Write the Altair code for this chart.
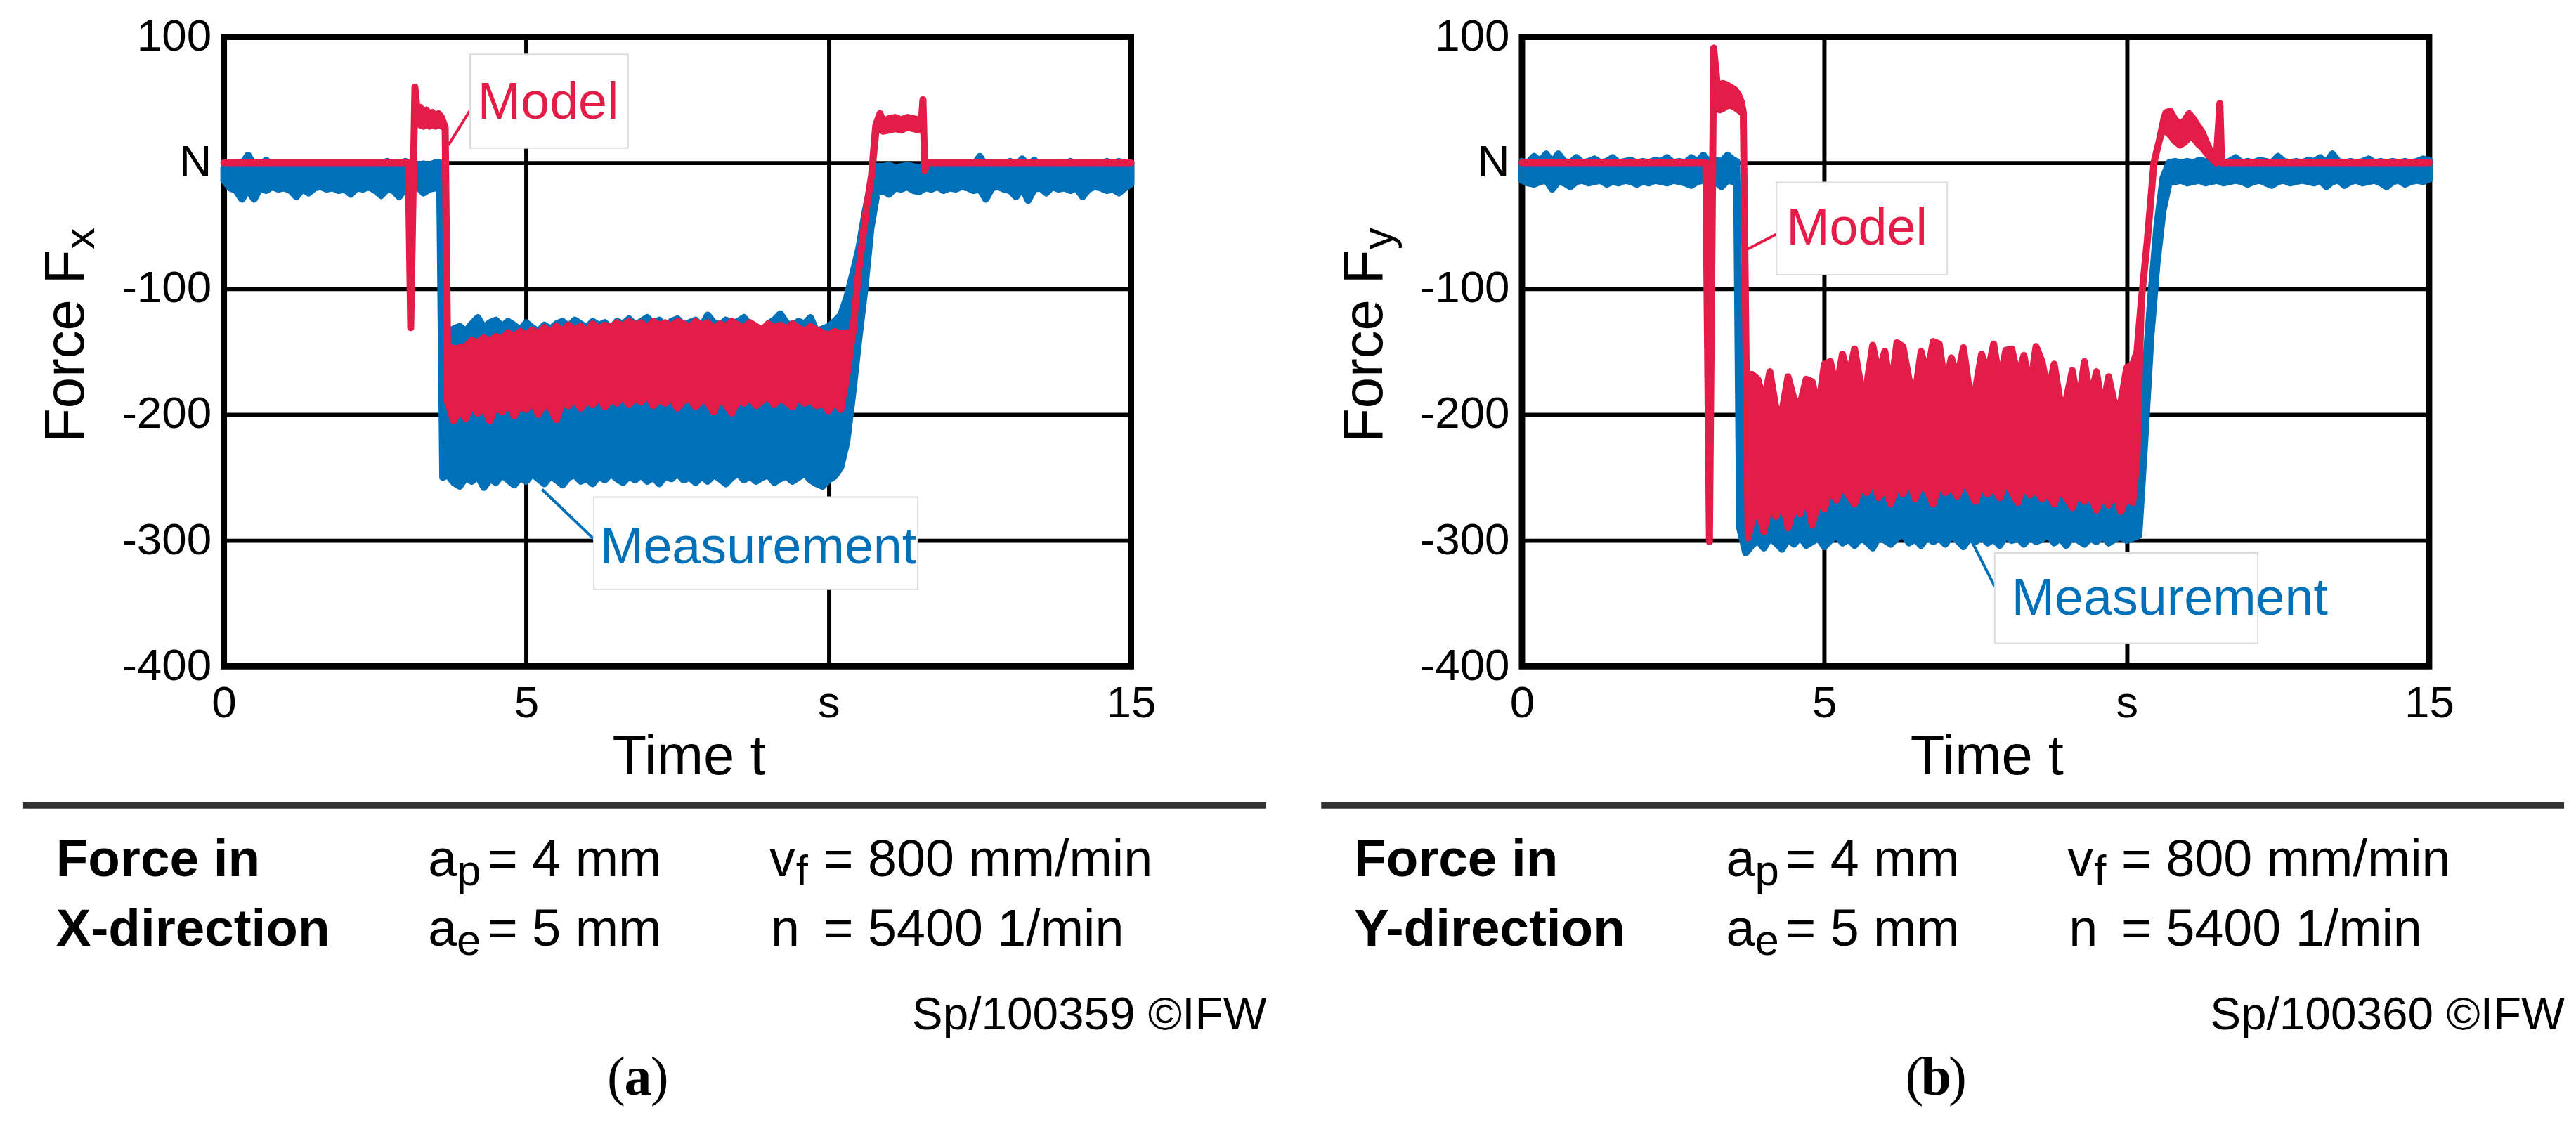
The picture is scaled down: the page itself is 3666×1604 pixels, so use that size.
import altair as alt
import pandas as pd

RED = "#E31D47"
BLUE = "#0070B8"

# sample times (s)
T_HEAD = [0.0, 0.1, 0.2, 0.3, 0.4, 0.5, 0.6, 0.7, 0.8,
          0.9, 1.0, 1.1, 1.2, 1.3, 1.4, 1.5, 1.6, 1.7,
          1.8, 1.9, 2.0, 2.1, 2.2, 2.3, 2.4, 2.5, 2.6,
          2.7, 2.8, 2.9, 3.0, 3.1, 3.2, 3.3, 3.4, 3.5]
T_BAND = [3.8, 3.9, 4.0, 4.1, 4.2, 4.3, 4.4, 4.5,
          4.6, 4.7, 4.8, 4.9, 5.0, 5.1, 5.2, 5.3,
          5.4, 5.5, 5.6, 5.7, 5.8, 5.9, 6.0, 6.1,
          6.2, 6.3, 6.4, 6.5, 6.6, 6.7, 6.8, 6.9,
          7.0, 7.1, 7.2, 7.3, 7.4, 7.5, 7.6, 7.7,
          7.8, 7.9, 8.0, 8.1, 8.2, 8.3, 8.4, 8.5,
          8.6, 8.7, 8.8, 8.9, 9.0, 9.1, 9.2, 9.3,
          9.4, 9.5, 9.6, 9.7, 9.8, 9.9, 10.0, 10.1]
T_TAIL = [10.9, 11.0, 11.1, 11.2, 11.3, 11.4, 11.5,
          11.6, 11.7, 11.8, 11.9, 12.0, 12.1, 12.2,
          12.3, 12.4, 12.5, 12.6, 12.7, 12.8, 12.9,
          13.0, 13.1, 13.2, 13.3, 13.4, 13.5, 13.6,
          13.7, 13.8, 13.9, 14.0, 14.1, 14.2, 14.3,
          14.4, 14.5, 14.6, 14.7, 14.8, 14.9, 15.0]

# ---- Force in X-direction, measurement (upper / lower envelope, N)
FX_MEAS_HEAD_HI = [-4, -2, -3, -1, 6, -2, -3, 2, -3,
                   -4, -2, -3, -2, -4, -3, -2, -3, -4,
                   -2, -3, -3, -2, -4, -3, -2, -3, -2,
                   1, -3, -2, 1, -3, -2, -1, -2, 0]
FX_MEAS_HEAD_LO = [-14, -20, -22, -29, -21, -29, -20, -22, -19,
                   -21, -20, -22, -27, -21, -24, -20, -19, -21,
                   -20, -22, -21, -25, -20, -21, -19, -22, -26,
                   -21, -22, -27, -20, -21, -19, -24, -21, -20]
FX_MEAS_IN_T = [3.57, 3.62, 3.7]
FX_MEAS_IN_HI = [0, -140, -138]
FX_MEAS_IN_LO = [-18, -250, -248]
FX_MEAS_BAND_HI = [-132, -130, -134, -128, -123, -131, -127, -125,
                   -130, -126, -129, -133, -127, -131, -134, -129,
                   -132, -128, -126, -130, -125, -128, -131, -126,
                   -129, -127, -132, -126, -128, -124, -129, -126,
                   -123, -128, -125, -130, -126, -124, -129, -127,
                   -125, -130, -121, -127, -129, -125, -128, -126,
                   -123, -129, -131, -135, -128, -125, -120, -127,
                   -130, -126, -128, -123, -134, -132, -130, -126]
FX_MEAS_BAND_LO = [-254, -257, -250, -253, -249, -258, -251, -254,
                   -248, -252, -256, -250, -253, -247, -251, -255,
                   -249, -252, -256, -250, -248, -253, -251, -255,
                   -249, -252, -247, -251, -254, -249, -252, -248,
                   -253, -250, -255, -249, -251, -247, -252, -250,
                   -254, -249, -253, -248, -251, -255, -250, -247,
                   -252, -249, -253, -250, -248, -254, -251, -249,
                   -253, -250, -247, -252, -255, -257, -252, -249]
FX_MEAS_OUT_T = [10.2, 10.3, 10.4, 10.5, 10.6, 10.7, 10.8]
FX_MEAS_OUT_HI = [-121, -107, -88, -68, -40, -16, -3]
FX_MEAS_OUT_LO = [-242, -222, -183, -140, -100, -52, -24]
FX_MEAS_TAIL_HI = [-3, -2, -4, -3, -2, -3, -4,
                   -2, -3, -3, -2, -4, -3, -2,
                   -3, -2, 5, -3, -2, -4, -3,
                   1, -3, 3, -2, 2, -3, -4,
                   -2, -3, -2, 1, -3, -2, -4,
                   -3, -2, 1, -3, 1, -2, 0]
FX_MEAS_TAIL_LO = [-22, -25, -20, -21, -19, -22, -23,
                   -20, -21, -19, -22, -20, -21, -19,
                   -20, -22, -21, -29, -20, -19, -21,
                   -22, -27, -20, -30, -21, -20, -24,
                   -19, -21, -20, -22, -20, -27, -21,
                   -19, -20, -22, -21, -24, -20, -17]

# ---- Force in X-direction, model
FX_MODEL_IN_T = [0.0, 3.05, 3.09, 3.16, 3.2, 3.25, 3.3, 3.35, 3.4, 3.45, 3.5, 3.55, 3.6, 3.66, 3.7]
FX_MODEL_IN_HI = [0, 0, -131, 60, 40, 44, 39, 42, 38, 40, 37, 39, 36, 28, -145]
FX_MODEL_IN_LO = [0, 0, -131, 60, 32, 30, 29, 31, 29, 30, 29, 30, 29, 28, -190]
FX_MODEL_BAND_HI = [-148, -147, -146, -141, -143, -139, -142, -138,
                    -140, -135, -138, -134, -137, -133, -136, -131,
                    -135, -130, -134, -129, -133, -130, -134, -128,
                    -132, -129, -131, -127, -130, -126, -129, -127,
                    -131, -126, -129, -127, -130, -126, -128, -131,
                    -126, -129, -127, -132, -128, -130, -126, -129,
                    -131, -127, -130, -133, -128, -131, -129, -132,
                    -128, -131, -134, -130, -133, -135, -137, -134]
FX_MODEL_BAND_LO = [-205, -196, -203, -191, -199, -194, -205, -192,
                    -198, -190, -201, -193, -196, -189, -200, -191,
                    -195, -204, -190, -193, -187, -195, -189, -192,
                    -186, -194, -188, -191, -185, -192, -187, -190,
                    -184, -193, -188, -191, -186, -195, -189, -187,
                    -194, -188, -190, -198, -187, -192, -199, -188,
                    -191, -186, -193, -189, -185, -192, -187, -190,
                    -194, -186, -191, -188, -193, -190, -197, -189]
FX_MODEL_OUT_T = [10.2, 10.3, 10.4, 10.5, 10.63, 10.71, 10.78, 10.85, 10.9, 11.0,
                  11.1, 11.2, 11.3, 11.4, 11.5, 11.53, 11.56, 11.59, 11.63, 15.0]
FX_MODEL_OUT_HI = [-136, -135, -135, -85, -35, -10, 30, 39, 33, 35,
                   36, 34, 36, 35, 34, 30, 50, -6, 0, 0]
FX_MODEL_OUT_LO = [-196, -170, -135, -85, -35, -10, 24, 29, 25, 26,
                   27, 26, 28, 27, 26, 26, 50, -6, 0, 0]

# ---- Force in Y-direction, measurement
FY_MEAS_HEAD_HI = [1, 0, 5, 1, 7, 0, 7, 1, 0,
                   4, 0, 1, 3, 0, 1, 4, 0, 1,
                   2, 0, 1, 0, 2, 1, 4, 0, 1,
                   0, 4, 1, 6, 0, 2, 1, 6, 2]
FY_MEAS_HEAD_LO = [-14, -16, -17, -15, -14, -21, -15, -16, -19,
                   -15, -14, -16, -15, -14, -17, -15, -16, -14,
                   -15, -17, -15, -16, -14, -15, -16, -14, -15,
                   -16, -18, -15, -14, -16, -15, -19, -14, -15]
FY_MEAS_IN_T = [3.55, 3.6, 3.7]
FY_MEAS_IN_HI = [1, -150, -248]
FY_MEAS_IN_LO = [-14, -290, -310]
FY_MEAS_BAND_HI = [-244, -255, -247, -252, -241, -258, -246, -250,
                   -243, -256, -248, -245, -253, -240, -249, -244,
                   -257, -246, -251, -242, -255, -247, -250, -243,
                   -256, -248, -244, -253, -241, -249, -246, -258,
                   -247, -251, -243, -255, -245, -250, -242, -254,
                   -247, -245, -252, -241, -249, -246, -257, -244,
                   -250, -243, -255, -248, -245, -253, -242, -250,
                   -247, -256, -244, -251, -246, -253, -249, -245]
FY_MEAS_BAND_LO = [-304, -300, -306, -298, -302, -307, -299, -303,
                   -297, -304, -301, -298, -305, -300, -296, -302,
                   -299, -304, -298, -301, -306, -297, -300, -303,
                   -298, -295, -302, -299, -304, -297, -301, -298,
                   -303, -296, -300, -305, -298, -301, -297, -302,
                   -299, -304, -296, -300, -298, -303, -297, -301,
                   -299, -295, -302, -298, -304, -297, -300, -303,
                   -298, -301, -296, -302, -299, -297, -300, -298]
FY_MEAS_OUT_T = [10.2, 10.3, 10.4, 10.5, 10.6, 10.7, 10.8]
FY_MEAS_OUT_HI = [-225, -170, -105, -50, -12, 0, 1]
FY_MEAS_OUT_LO = [-296, -220, -138, -80, -38, -16, -15]
FY_MEAS_TAIL_HI = [0, 1, 0, 2, 1, 0, 1,
                   0, 1, 4, 0, 1, 0, 2,
                   1, 0, 5, 1, 0, 1, 0,
                   2, 1, 4, 0, 7, 1, 0,
                   1, 0, 1, 3, 0, 1, 0,
                   1, 0, 1, 0, 1, 3, 2]
FY_MEAS_TAIL_LO = [-14, -16, -15, -14, -16, -15, -14,
                   -16, -15, -14, -15, -17, -15, -14,
                   -16, -18, -15, -14, -16, -15, -14,
                   -15, -16, -14, -19, -15, -14, -18,
                   -15, -14, -16, -15, -14, -16, -19,
                   -15, -14, -17, -15, -14, -15, -13]

# ---- Force in Y-direction, model
FY_MODEL_IN_T = [0.0, 3.04, 3.1, 3.17, 3.23, 3.27, 3.32, 3.38, 3.45, 3.52, 3.58, 3.63, 3.66, 3.74]
FY_MODEL_IN_HI = [0, 0, -301, 91, 62, 60, 63, 62, 60, 58, 54, 48, 40, -298]
FY_MODEL_IN_LO = [0, 0, -301, 91, 62, 42, 43, 45, 46, 44, 42, 40, 40, -298]
FY_MODEL_BAND_HI = [-168, -172, -190, -166, -195, -198, -170, -188,
                    -192, -172, -174, -196, -160, -158, -180, -152,
                    -170, -148, -176, -177, -145, -168, -150, -181,
                    -143, -146, -172, -184, -150, -169, -142, -144,
                    -178, -155, -171, -147, -182, -180, -152, -167,
                    -144, -175, -149, -148, -170, -153, -180, -146,
                    -158, -183, -160, -190, -188, -165, -194, -158,
                    -188, -166, -197, -170, -192, -191, -163, -160]
FY_MODEL_BAND_LO = [-285, -274, -293, -270, -281, -266, -290, -272,
                    -279, -263, -288, -268, -275, -259, -268, -255,
                    -264, -271, -257, -262, -252, -266, -258, -271,
                    -255, -263, -251, -267, -256, -260, -271, -254,
                    -262, -257, -265, -252, -260, -269, -255, -263,
                    -258, -266, -253, -261, -270, -256, -264, -259,
                    -267, -262, -271, -258, -266, -274, -261, -269,
                    -263, -276, -265, -272, -260, -277, -266, -270]
FY_MODEL_OUT_T = [10.17, 10.24, 10.34, 10.45, 10.54, 10.62, 10.65, 10.72, 10.8, 10.88, 10.95,
                  11.03, 11.1, 11.18, 11.25, 11.33, 11.43, 11.48, 11.54, 11.57, 15.0]
FY_MODEL_OUT_HI = [-150, -110, -62, 0, 18, 36, 40, 41, 34, 31, 33,
                   39, 35, 29, 24, 15, 4, 2, 47, 0, 0]
FY_MODEL_OUT_LO = [-235, -110, -62, 0, 18, 30, 25, 22, 17, 14, 16,
                   20, 20, 15, 12, 7, 2, 0, 47, 0, 0]

Y_TICKS = [100, 0, -100, -200, -300, -400]
X_TICKS = [0, 5, 10, 15]

W, H = 1297, 900
ONE = pd.DataFrame({"k": [0]})


def series(parts):
    t, hi, lo = [], [], []
    for pt, ph, pl in parts:
        t += pt
        hi += ph
        lo += pl
    return pd.DataFrame({"t": t, "hi": hi, "lo": lo})


def trace(df, color):
    return (
        alt.Chart(df)
        .mark_area(color=color, stroke=color, strokeWidth=10, strokeJoin="round", opacity=1)
        .encode(
            x=alt.X(
                "t:Q",
                scale=alt.Scale(domain=[0, 15], nice=False, zero=False),
                axis=alt.Axis(values=X_TICKS, title=None,
                              labelExpr="datum.value == 10 ? 's' : '' + datum.value"),
            ),
            y=alt.Y(
                "hi:Q",
                scale=alt.Scale(domain=[-400, 100], nice=False, zero=False),
                axis=alt.Axis(values=Y_TICKS, title=None,
                              labelExpr="datum.value == 0 ? 'N' : '' + datum.value"),
            ),
            y2="lo:Q",
        )
    )


def text(s, x, y, size, color="black", font="Liberation Sans", weight="normal",
         align="left", angle=0):
    return (
        alt.Chart(ONE)
        .mark_text(text=s, font=font, fontSize=size, fontWeight=weight, color=color,
                   align=align, baseline="alphabetic", angle=angle)
        .encode(x=alt.value(x), y=alt.value(y))
    )


def box(x1, x2, y1, y2):
    return (
        alt.Chart(ONE)
        .mark_rect(fill="white", stroke="#dddddd", strokeWidth=2)
        .encode(x=alt.value(x1), x2=alt.value(x2), y=alt.value(y1), y2=alt.value(y2))
    )


def line(x1, y1, x2, y2, color, width):
    return (
        alt.Chart(ONE)
        .mark_rule(color=color, strokeWidth=width)
        .encode(x=alt.value(x1), x2=alt.value(x2), y=alt.value(y1), y2=alt.value(y2))
    )


def panel(meas, model, sub, direction, code, letter, model_lbl, meas_lbl):
    mx, my, mb = model_lbl
    ex, ey, eb = meas_lbl
    layers = [
        trace(meas, BLUE),
        trace(model, RED),
        # callouts
        line(*mb[0], *mb[1], RED, 4),
        box(*mb[2]),
        text("Model", mx, my, 74, RED),
        line(*eb[0], *eb[1], BLUE, 4),
        box(*eb[2]),
        text("Measurement", ex, ey, 74, BLUE),
        # axis titles
        text("Force F", -200, 580, 80, angle=270),
        text(sub, -185, 304, 62, angle=270),
        text("Time t", 665, 1054, 80, align="center"),
        # parameter block
        line(-287, 1099, 1490, 1099, "#333333", 9),
        text("Force in", -240, 1200, 75, weight="bold"),
        text(direction, -240, 1300, 75, weight="bold"),
        text("a", 292, 1200, 74),
        text("p", 333, 1213, 62),
        text("= 4 mm", 377, 1200, 74),
        text("a", 292, 1300, 74),
        text("e", 333, 1313, 62),
        text("= 5 mm", 377, 1300, 74),
        text("v", 780, 1200, 74),
        text("f", 818, 1213, 62),
        text("= 800 mm/min", 857, 1200, 74),
        text("n", 782, 1300, 74),
        text("= 5400 1/min", 857, 1300, 74),
        text(code, 1491, 1419, 66, align="right"),
        text("(", 574, 1513, 78, font="Liberation Serif", align="right"),
        text(letter, 592, 1513, 78, font="Liberation Serif", weight="bold", align="center"),
        text(")", 610, 1513, 78, font="Liberation Serif"),
    ]
    return alt.layer(*layers).properties(width=W, height=H)


fx_meas = series([
    (T_HEAD, FX_MEAS_HEAD_HI, FX_MEAS_HEAD_LO),
    (FX_MEAS_IN_T, FX_MEAS_IN_HI, FX_MEAS_IN_LO),
    (T_BAND, FX_MEAS_BAND_HI, FX_MEAS_BAND_LO),
    (FX_MEAS_OUT_T, FX_MEAS_OUT_HI, FX_MEAS_OUT_LO),
    (T_TAIL, FX_MEAS_TAIL_HI, FX_MEAS_TAIL_LO),
])
fx_model = series([
    (FX_MODEL_IN_T, FX_MODEL_IN_HI, FX_MODEL_IN_LO),
    (T_BAND, FX_MODEL_BAND_HI, FX_MODEL_BAND_LO),
    (FX_MODEL_OUT_T, FX_MODEL_OUT_HI, FX_MODEL_OUT_LO),
])
fy_meas = series([
    (T_HEAD, FY_MEAS_HEAD_HI, FY_MEAS_HEAD_LO),
    (FY_MEAS_IN_T, FY_MEAS_IN_HI, FY_MEAS_IN_LO),
    (T_BAND, FY_MEAS_BAND_HI, FY_MEAS_BAND_LO),
    (FY_MEAS_OUT_T, FY_MEAS_OUT_HI, FY_MEAS_OUT_LO),
    (T_TAIL, FY_MEAS_TAIL_HI, FY_MEAS_TAIL_LO),
])
fy_model = series([
    (FY_MODEL_IN_T, FY_MODEL_IN_HI, FY_MODEL_IN_LO),
    (T_BAND, FY_MODEL_BAND_HI, FY_MODEL_BAND_LO),
    (FY_MODEL_OUT_T, FY_MODEL_OUT_HI, FY_MODEL_OUT_LO),
])

left = panel(
    fx_meas, fx_model, "x", "X-direction", "Sp/100359 \u00a9IFW", "a",
    (363, 117, ((321, 155), (352, 105), (352, 578, 25, 159))),
    (538, 753, ((455, 647), (529, 718), (529, 992, 658, 790))),
)
right = panel(
    fy_meas, fy_model, "y", "Y-direction", "Sp/100360 \u00a9IFW", "b",
    (378, 297, ((318, 306), (364, 282), (364, 608, 208, 340))),
    (700, 826, ((643, 721), (676, 786), (676, 1052, 738, 867))),
)

chart = (
    alt.hconcat(left, right, spacing=61)
    .properties(padding={"left": 16, "top": 4, "right": 0, "bottom": 0})
    .configure_view(stroke="black", strokeWidth=9)
    .configure_axis(
        labelFont="Liberation Sans",
        labelFontSize=64,
        labelColor="black",
        grid=True,
        gridColor="black",
        gridWidth=6,
        gridOpacity=1,
        domain=False,
        ticks=False,
        tickSize=0,
        labelFlush=False,
    )
    .configure_axisX(labelPadding=22)
    .configure_axisY(labelPadding=18)
)

chart.save("out.html", embed_options={"renderer": "svg", "actions": False})
